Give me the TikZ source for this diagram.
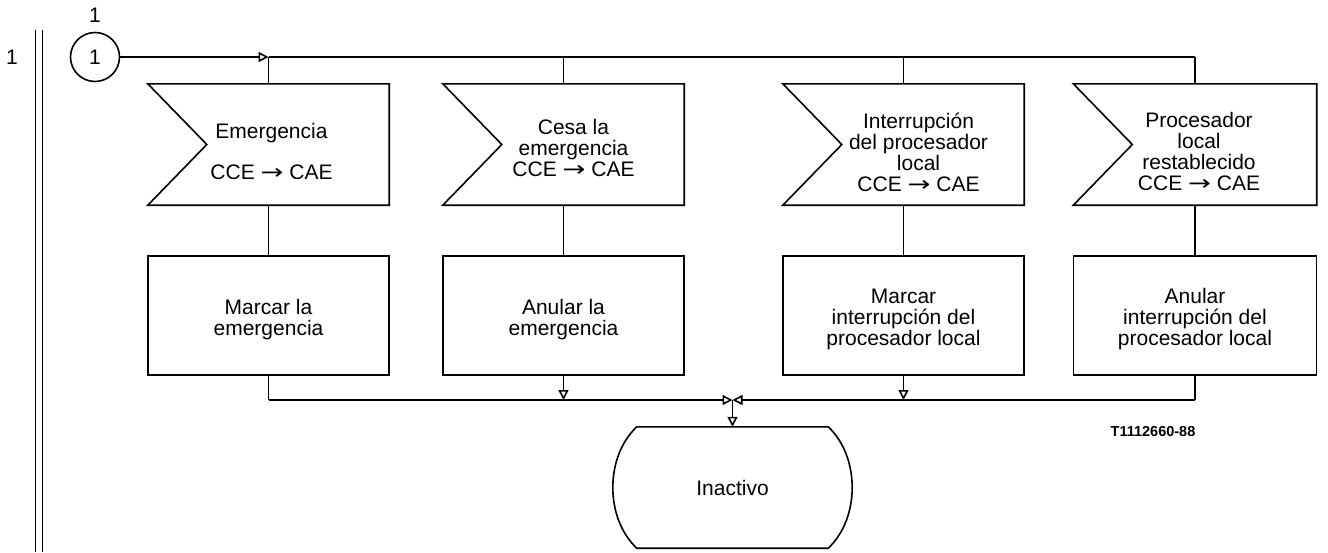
\documentclass[tikz,border=0pt]{standalone}
\usepackage{fontspec}
\setmainfont{Liberation Sans}
\newfontfamily\djv{DejaVu Sans}
\usetikzlibrary{arrows.meta,calc}
\newcommand{\txtfont}{\fontsize{21}{21}\selectfont}
\newcommand{\rar}{{\djv\scalebox{1.3}[1]{→}}}
\begin{document}
\begin{tikzpicture}[x=1pt,y=-1pt,
  lw/.style={line width=1.6pt},
  sigbox/.style={minimum width=241pt,minimum height=121pt,inner sep=0pt},
  txt/.style={align=center,font=\txtfont,inner sep=0pt},
  procbox/.style={draw,lw,minimum width=241pt,minimum height=119pt,inner sep=0pt},
  arr/.style={-{Triangle[open,length=10pt,width=10pt]}},
  inact/.style={minimum width=191pt,minimum height=121pt,align=center,font=\txtfont,inner sep=0pt}]
\useasboundingbox (0,0) rectangle (1328,552);

% left double line and labels
\draw[lw] (35.5,30) -- (35.5,552);
\draw[lw] (42.5,30) -- (42.5,552);
\node[txt] (lab1) at (12,57) {1};
\node[txt] (lab2) at (95,15) {1};
\node[draw,lw,circle,minimum size=49pt,inner sep=0pt,font=\txtfont] (c) at (95,57) {1};

% signal boxes
\node[sigbox] (s1) at (268.5,144.5) {};
\node[sigbox] (s2) at (563.5,144.5) {};
\node[sigbox] (s3) at (903.5,144.5) {};
\node[sigbox,minimum width=243pt] (s4) at (1195,144.5) {};
\foreach \i in {1,2,3,4}{
  \draw[lw] (s\i.north west) -- (s\i.north east) -- (s\i.south east) -- (s\i.south west)
    -- ($(s\i.west)+(59,0)$) -- cycle;
}
\node[txt] (s1t) at ([xshift=3pt,yshift=-7pt]s1.center) {Emergencia\\[20pt]CCE \rar{} CAE};
\node[txt] (s2t) at ([xshift=10pt,yshift=-3pt]s2.center) {Cesa la\\emergencia\\CCE \rar{} CAE};
\node[txt] (s3t) at ([xshift=15pt,yshift=-8pt]s3.center) {Interrupción\\del procesador\\local\\CCE \rar{} CAE};
\node[txt] (s4t) at ([xshift=4pt,yshift=-7pt]s4.center) {Procesador\\local\\restablecido\\CCE \rar{} CAE};

% process boxes
\node[procbox] (p1) at (268.5,315.5) {};
\node[procbox] (p2) at (563.5,315.5) {};
\node[procbox] (p3) at (903.5,315.5) {};
\node[procbox,minimum width=243pt] (p4) at (1195,315.5) {};
\node[txt] (p1t) at ([yshift=-4pt]p1.center) {Marcar la\\emergencia};
\node[txt] (p2t) at ([yshift=-4pt]p2.center) {Anular la\\emergencia};
\node[txt] (p3t) at ([yshift=-4pt]p3.center) {Marcar\\interrupción del\\procesador local};
\node[txt] (p4t) at ([yshift=-4pt]p4.center) {Anular\\interrupción del\\procesador local};

% Inactivo
\node[inact] (ina) at (732.5,487.5) {Inactivo};
\draw[lw] (ina.north west) -- (ina.north east)
  .. controls +(32,30) and +(32,-30) .. (ina.south east)
  -- (ina.south west)
  .. controls +(-32,-30) and +(-32,30) .. (ina.north west);

% coordinates
\path (0,400) coordinate (hl);
\foreach \i in {1,2,3,4}{
  \coordinate (t\i) at (s\i.north |- c.east);
  \coordinate (b\i) at (p\i.south |- hl);
}
\coordinate (bj) at (ina.north |- hl);

% connectors
\draw[lw,arr] (c.east) -- (t1);
\draw[lw] (t1) -- (t4);
\foreach \i in {1,2,3,4}{
  \draw[lw] (t\i) -- (s\i.north);
  \draw[lw] (s\i.south) -- (p\i.north);
}
\draw[lw] (p1.south) -- (b1);
\draw[lw,arr] (p2.south) -- (b2);
\draw[lw,arr] (p3.south) -- (b3);
\draw[lw] (p4.south) -- (b4);
\draw[lw,arr] (b1) -- (bj);
\draw[lw,arr] (b4) -- (bj);
\draw[lw,arr] (bj) -- (ina.north);

\node[font=\bfseries\fontsize{14.5}{16}\selectfont,inner sep=0pt] (tl) at (1153,432) {T1112660-88};
\end{tikzpicture}
\end{document}
